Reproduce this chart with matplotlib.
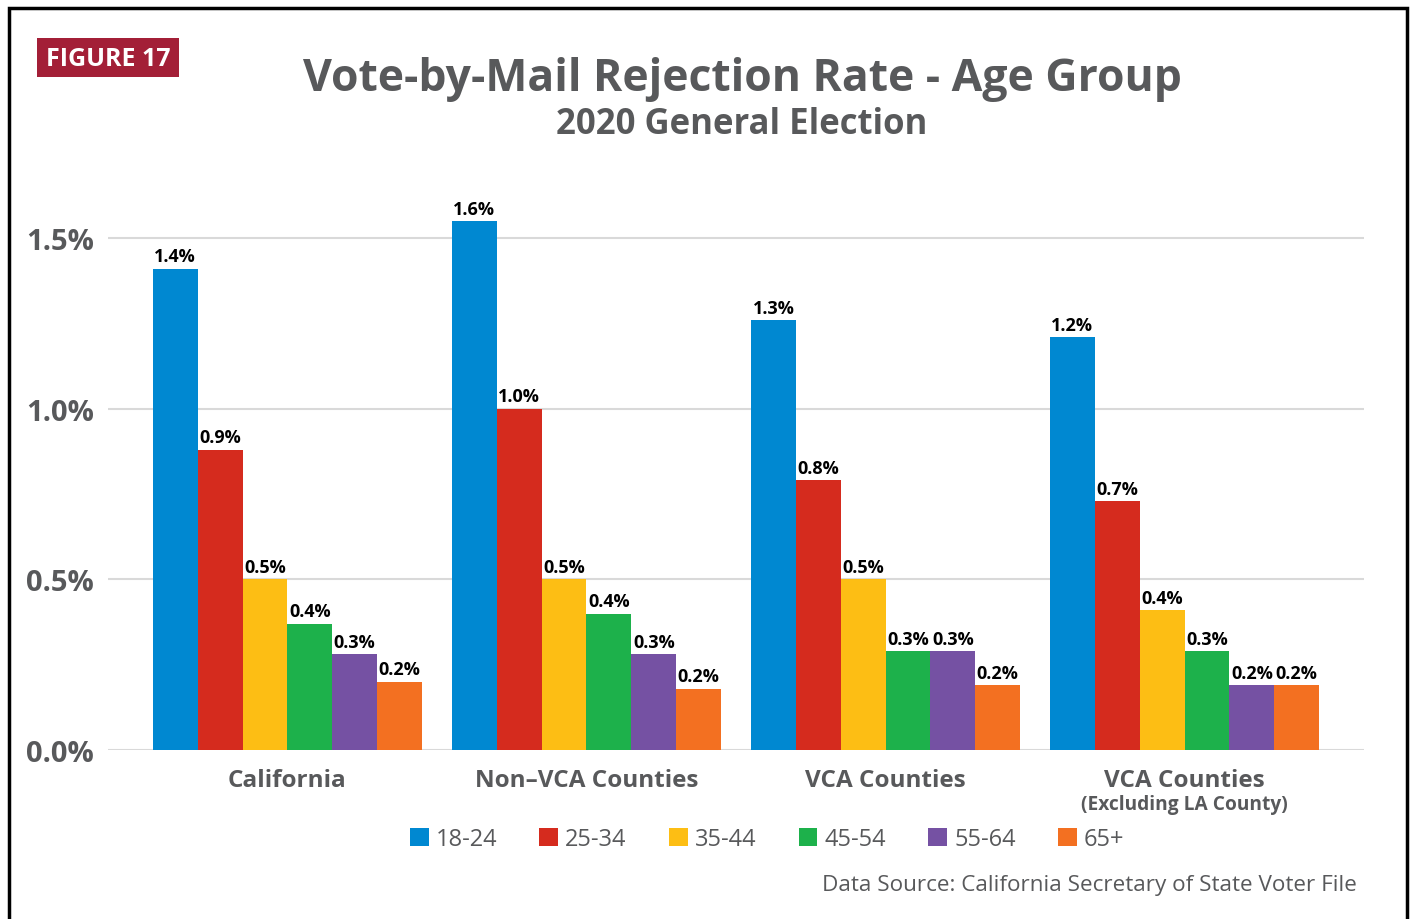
import numpy as np
import matplotlib.pyplot as plt
from matplotlib.patches import Rectangle

# Data (percent)
regions = ['California', 'Non\u2013VCA Counties', 'VCA Counties', 'VCA Counties']
age_groups = ['18-24', '25-34', '35-44', '45-54', '55-64', '65+']
rate_18_24 = [1.41, 1.55, 1.26, 1.21]
rate_25_34 = [0.88, 1.00, 0.79, 0.73]
rate_35_44 = [0.50, 0.50, 0.50, 0.41]
rate_45_54 = [0.37, 0.40, 0.29, 0.29]
rate_55_64 = [0.28, 0.28, 0.29, 0.19]
rate_65_up = [0.20, 0.18, 0.19, 0.19]
labels_18_24 = ['1.4%', '1.6%', '1.3%', '1.2%']
labels_25_34 = ['0.9%', '1.0%', '0.8%', '0.7%']
labels_35_44 = ['0.5%', '0.5%', '0.5%', '0.4%']
labels_45_54 = ['0.4%', '0.4%', '0.3%', '0.3%']
labels_55_64 = ['0.3%', '0.3%', '0.3%', '0.2%']
labels_65_up = ['0.2%', '0.2%', '0.2%', '0.2%']

series = [rate_18_24, rate_25_34, rate_35_44, rate_45_54, rate_55_64, rate_65_up]
series_labels = [labels_18_24, labels_25_34, labels_35_44, labels_45_54, labels_55_64, labels_65_up]
colors = ['#0088D1', '#D52B1E', '#FDBE14', '#1DB14B', '#7551A3', '#F37021']

gray = '#58595B'
plt.rcParams['font.family'] = ['Open Sans', 'DejaVu Sans']

fig = plt.figure(figsize=(14.15, 9.2), dpi=100)
W, H = 1415, 920

# frame around the figure
fig.patches.append(Rectangle((9 / W, -0.05), 1398 / W, 1.05 - 9 / H, transform=fig.transFigure,
                             fill=False, edgecolor='black', linewidth=2.5))

# figure tag
fig.patches.append(Rectangle((37 / W, 1 - 78 / H), 142 / W, 39 / H, transform=fig.transFigure,
                             facecolor='#A31F37', edgecolor='none'))
fig.text(108 / W, 1 - 60 / H, 'FIGURE 17', color='white', fontsize=18, fontweight='bold',
         ha='center', va='center')

fig.text(742 / W, 1 - 80 / H, 'Vote-by-Mail Rejection Rate - Age Group', color=gray,
         fontsize=32, fontweight='bold', ha='center', va='center')
fig.text(742 / W, 1 - 125 / H, '2020 General Election', color=gray,
         fontsize=25, fontweight='bold', ha='center', va='center')

ax = fig.add_axes([108 / W, 1 - 751 / H, (1364 - 108) / W, (751 - 188) / H])
x = np.arange(len(regions))
bw = 0.15
for i, (vals, labs) in enumerate(zip(series, series_labels)):
    pos = x + (i - 2.5) * bw
    ax.bar(pos, vals, width=bw, color=colors[i], label=age_groups[i], zorder=3)
    for px, v, t in zip(pos, vals, labs):
        ax.text(px, v + 0.01, t, ha='center', va='bottom', fontsize=13,
                fontweight='bold', color='black', zorder=4)

ax.set_xlim(-0.6, 3.6)
ax.set_ylim(0, 1.65)
ax.set_yticks([0, 0.5, 1.0, 1.5])
ax.set_yticklabels(['0.0%', '0.5%', '1.0%', '1.5%'])
ax.yaxis.grid(True, color='#D9D9D9', linewidth=1.5, zorder=0)
ax.set_axisbelow(True)
for s in ax.spines.values():
    s.set_visible(False)
ax.tick_params(axis='y', length=0, pad=10, labelsize=21, labelcolor=gray)
for t in ax.get_yticklabels():
    t.set_fontweight('bold')
ax.set_xticks(x)
ax.set_xticklabels(regions)
ax.tick_params(axis='x', length=0, pad=13, labelsize=17.5, labelcolor=gray)
for t in ax.get_xticklabels():
    t.set_fontweight('bold')
ax.text(x[3], -0.158, '(Excluding LA County)', ha='center', va='center', fontsize=13.8,
        fontweight='bold', color=gray)

leg = fig.legend(loc='center', bbox_to_anchor=(767 / W, 1 - 840 / H), ncol=6, frameon=False,
                 fontsize=17, handlelength=0.8, handleheight=0.8, handletextpad=0.3,
                 columnspacing=1.78)
for t in leg.get_texts():
    t.set_color(gray)

fig.text(1357 / W, 1 - 886 / H, 'Data Source: California Secretary of State Voter File',
         ha='right', va='center', fontsize=16.2, color=gray)

fig.savefig('out.png', dpi=100, facecolor='white')
